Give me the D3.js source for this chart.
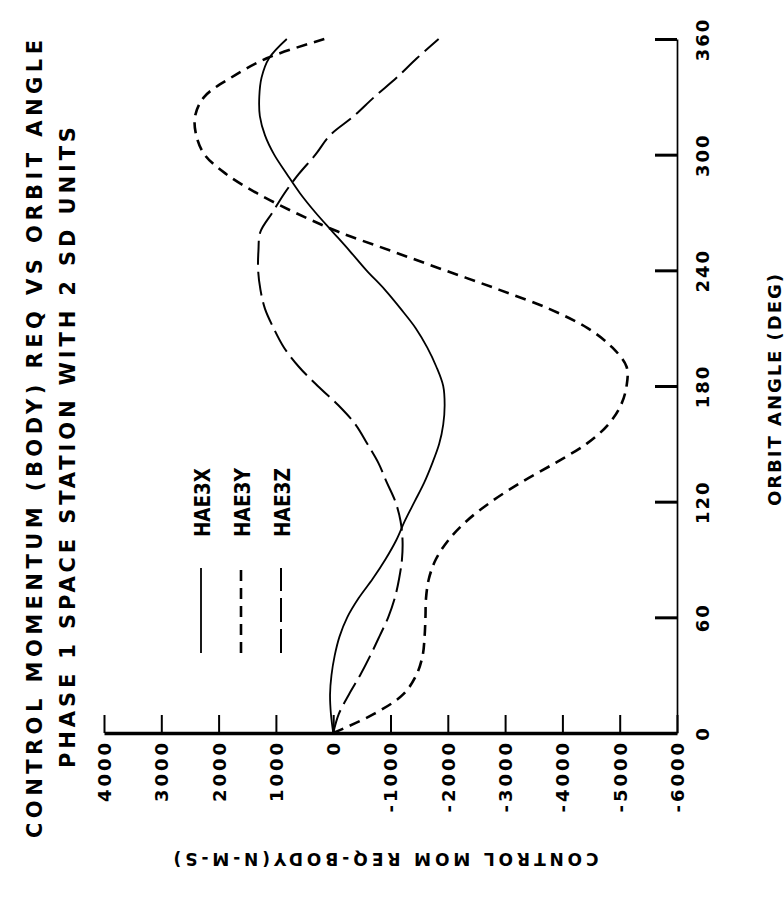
<!DOCTYPE html>
<html><head><meta charset="utf-8">
<script src="https://cdn.jsdelivr.net/npm/d3@7"></script>
<style>html,body{margin:0;padding:0;background:#fff;} svg{display:block;background:#fff;}</style>
</head><body><svg id="chart" width="784" height="903"></svg>
<script>
// ---- data ----
const angles = [0,10,20,30,40,50,60,70,80,90,100,110,120,130,140,150,160,170,180,
                190,200,210,220,230,240,250,260,270,280,290,300,310,320,330,340,350,360];
const hae3x = [0,40,55,30,-25,-110,-245,-445,-690,-910,-1100,-1250,-1420,-1590,-1730,-1850,-1920,-1945,-1920,
               -1800,-1640,-1440,-1180,-900,-580,-290,10,310,580,810,1030,1190,1280,1290,1250,1120,810];
const hae3y = [0,-720,-1220,-1450,-1560,-1595,-1610,-1620,-1670,-1790,-2010,-2330,-2760,-3280,-3870,-4420,-4800,-5020,-5120,
               -5120,-4870,-4440,-3770,-2890,-1950,-1020,-90,670,1330,1870,2244,2390,2410,2250,1780,1160,150];
const hae3z = [0,-100,-275,-470,-645,-805,-960,-1075,-1150,-1200,-1210,-1175,-1085,-935,-790,-595,-390,-90,270,
               600,860,1040,1190,1270,1310,1305,1270,1060,850,600,310,58,-360,-720,-1110,-1460,-1840];
const seriesNames = ["HAE3X","HAE3Y","HAE3Z"];
const momentumTicks = [4000,3000,2000,1000,0,-1000,-2000,-3000,-4000,-5000,-6000];
const angleTicks = [0,60,120,180,240,300,360];
const titleLines = ["CONTROL MOMENTUM (BODY) REQ VS ORBIT ANGLE","PHASE 1 SPACE STATION WITH 2 SD UNITS"];
const momentumTitle = "CONTROL MOM REQ-BODY(N-M-S)";
const angleTitle = "ORBIT ANGLE (DEG)";

// ---- styles ----
const styles = [
  {dash: null, width: 1.8},
  {dash: "11,7", width: 2.6},
  {dash: "24,7", width: 2.0}
];
const FONT = "'DejaVu Sans', 'Liberation Sans', sans-serif";

const svg = d3.select("#chart");
svg.append("rect").attr("width",784).attr("height",903).attr("fill","#fff");

// chart is drawn rotated: momentum runs horizontally, orbit angle vertically
const x = d3.scaleLinear().domain([4000,-6000]).range([104,677]);
const y = d3.scaleLinear().domain([0,360]).range([733,39]);

// momentum axis (at angle 0)
const mAxis = svg.append("g").attr("transform",`translate(0,${y(0)})`)
  .call(d3.axisBottom(x).tickValues(momentumTicks).tickSize(-18).tickSizeOuter(0)
        .tickFormat(d => String(d)));
mAxis.select(".domain").attr("stroke","#000").attr("stroke-width",3.5);
mAxis.selectAll(".tick line").attr("stroke","#000").attr("stroke-width",2);
mAxis.selectAll(".tick text")
  .attr("transform","rotate(-90)").attr("x",-7).attr("y",0).attr("dy","0.36em")
  .attr("text-anchor","end").attr("fill","#000")
  .style("font-family",FONT).style("font-size","18px").style("font-weight","bold")
  .style("letter-spacing","3px");

// orbit angle axis (at momentum -6000)
const aAxis = svg.append("g").attr("transform",`translate(${x(-6000)},0)`)
  .call(d3.axisRight(y).tickValues(angleTicks).tickSize(-22).tickSizeOuter(0));
aAxis.select(".domain").attr("stroke","#000").attr("stroke-width",1.7);
aAxis.selectAll(".tick line").attr("stroke","#000").attr("stroke-width",3);
aAxis.selectAll(".tick text")
  .attr("transform","rotate(-90)").attr("x",0).attr("y",26).attr("dy","0.36em")
  .attr("text-anchor","middle").attr("fill","#000")
  .style("font-family",FONT).style("font-size","18px").style("font-weight","bold")
  .style("letter-spacing","2px");

// curves
const series = [hae3x, hae3y, hae3z];
const line = d3.line().x(d => x(d[1])).y(d => y(d[0])).curve(d3.curveCatmullRom.alpha(0.5));
series.forEach((vals, i) => {
  svg.append("path")
    .datum(angles.map((a, k) => [a, vals[k]]))
    .attr("d", line).attr("fill","none").attr("stroke","#000")
    .attr("stroke-width", styles[i].width)
    .attr("stroke-dasharray", styles[i].dash);
});

// legend
const legX = [201, 241, 281];
seriesNames.forEach((name, i) => {
  svg.append("line").attr("x1",legX[i]).attr("x2",legX[i]).attr("y1",653).attr("y2",568)
    .attr("stroke","#000").attr("stroke-width",styles[i].width)
    .attr("stroke-dasharray",styles[i].dash);
  svg.append("text").attr("transform",`translate(${legX[i]+9},537) rotate(-90)`)
    .attr("text-anchor","start").attr("textLength",69).attr("lengthAdjust","spacingAndGlyphs")
    .style("font-family",FONT).style("font-size","21px").style("font-weight","bold")
    .attr("fill","#000").text(name);
});

// titles
svg.append("text").attr("transform","translate(42,838) rotate(-90)")
  .attr("textLength",798).attr("lengthAdjust","spacing")
  .style("font-family",FONT).style("font-size","21px").style("font-weight","bold")
  .attr("fill","#000").text(titleLines[0]);
svg.append("text").attr("transform","translate(75,768) rotate(-90)")
  .attr("textLength",641).attr("lengthAdjust","spacing")
  .style("font-family",FONT).style("font-size","21px").style("font-weight","bold")
  .attr("fill","#000").text(titleLines[1]);

// axis titles
svg.append("text").attr("transform","translate(386,866) rotate(180)")
  .attr("text-anchor","middle").attr("dy","0.75em").attr("textLength",425).attr("lengthAdjust","spacing")
  .style("font-family",FONT).style("font-size","17px").style("font-weight","bold")
  .attr("fill","#000").text(momentumTitle);
svg.append("text").attr("transform","translate(781,390) rotate(-90)")
  .attr("text-anchor","middle").attr("textLength",232).attr("lengthAdjust","spacing")
  .style("font-family",FONT).style("font-size","18px").style("font-weight","bold")
  .attr("fill","#000").text(angleTitle);
</script>
</body></html>
